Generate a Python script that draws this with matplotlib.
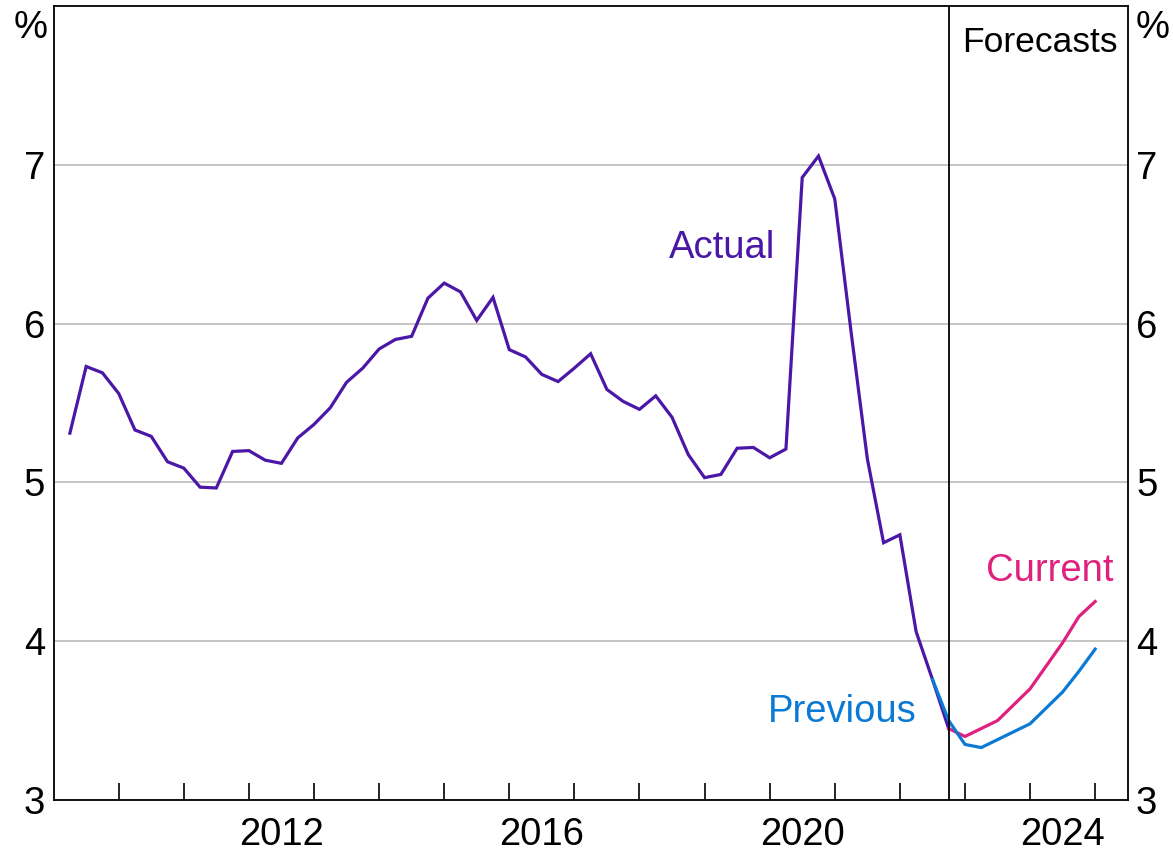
"""Unemployment rate: actual and forecasts (current vs previous)."""

import matplotlib

matplotlib.use("Agg")
import matplotlib.pyplot as plt
import matplotlib.transforms as mtransforms

plt.rcParams["font.family"] = ["Liberation Sans", "DejaVu Sans"]

# quarterly actual, 2009 Q1 .. 2022 Q3
actual = [
    5.31, 5.73, 5.69, 5.56, 5.33, 5.29, 5.13, 5.09, 4.97, 4.965,
    5.195, 5.20, 5.14, 5.12, 5.28, 5.365, 5.47, 5.63, 5.72, 5.84,
    5.90, 5.92, 6.16, 6.255, 6.20, 6.02, 6.165, 5.836, 5.79, 5.68,
    5.635, 5.72, 5.81, 5.585, 5.51, 5.46, 5.545, 5.41, 5.175, 5.03,
    5.05, 5.215, 5.22, 5.155, 5.21, 6.92, 7.055, 6.785, 5.95, 5.15,
    4.62, 4.67, 4.06, 3.76, 3.45,
]
actual_start = (2009, 1)

current_q = ["2022-Q3", "2022-Q4", "2023-Q2", "2023-Q4", "2024-Q2", "2024-Q3", "2024-Q4"]
current = [3.45, 3.40, 3.50, 3.70, 3.99, 4.155, 4.25]

previous_q = ["2022-Q2", "2022-Q3", "2022-Q4", "2023-Q1", "2023-Q4", "2024-Q2", "2024-Q3", "2024-Q4"]
previous = [3.76, 3.50, 3.35, 3.33, 3.48, 3.68, 3.81, 3.95]

forecast_start = "2022-Q3"
label_years = [2012, 2016, 2020, 2024]

PURPLE = "#4A17A6"
PINK = "#E0207F"
BLUE = "#0A7AD4"


def qpos(q: str) -> float:
    year, qq = q.split("-Q")
    return int(year) + int(qq) / 4


actual_x = [actual_start[0] + (actual_start[1] + i) / 4 for i in range(len(actual))]

fig = plt.figure(figsize=(11.73, 8.6), dpi=100)
ax = fig.add_axes([53.6 / 1173, 60 / 860, (1127.7 - 53.6) / 1173, 794 / 860])

ax.plot(actual_x, actual, color=PURPLE, linewidth=2.3, solid_joinstyle="miter")
ax.plot([qpos(q) for q in current_q], current, color=PINK, linewidth=2.3)
ax.plot([qpos(q) for q in previous_q], previous, color=BLUE, linewidth=2.3)

ax.axvline(qpos(forecast_start), color="black", linewidth=1.3)

ax.set_xlim(2009, 2025.5)
ax.set_ylim(3, 8)

ax.set_yticks([3, 4, 5, 6, 7])
ax.yaxis.grid(True, color="#BBBBBB", linewidth=1.2)
ax.set_axisbelow(True)
ax.tick_params(axis="y", length=0, labelsize=27.5, pad=6,
               labelleft=True, labelright=True)

ax.set_xticks([y + 0.5 for y in label_years])
ax.set_xticklabels([str(y) for y in label_years])
ax.set_xticks(range(2010, 2026), minor=True)
ax.tick_params(axis="x", which="major", length=0, labelsize=27.5, pad=12)
ax.tick_params(axis="x", which="minor", direction="in", length=12, width=1.2)

for sp in ax.spines.values():
    sp.set_linewidth(1.3)

trans = mtransforms.blended_transform_factory(ax.transAxes, ax.transData)
ax.text(-0.006, 7.80, "%", transform=trans, ha="right", va="baseline", fontsize=27.5)
ax.text(1.007, 7.80, "%", transform=trans, ha="left", va="baseline", fontsize=27.5)

ax.text(2025.34, 7.71, "Forecasts", ha="right", va="baseline", fontsize=25.5)
ax.text(2019.27, 6.41, "Actual", ha="center", va="baseline", fontsize=27.5, color=PURPLE)
ax.text(2025.28, 4.38, "Current", ha="right", va="baseline", fontsize=27.5, color=PINK)
ax.text(2022.25, 3.49, "Previous", ha="right", va="baseline", fontsize=27.5, color=BLUE)

fig.savefig("out.png", dpi=100)
plt.close(fig)
